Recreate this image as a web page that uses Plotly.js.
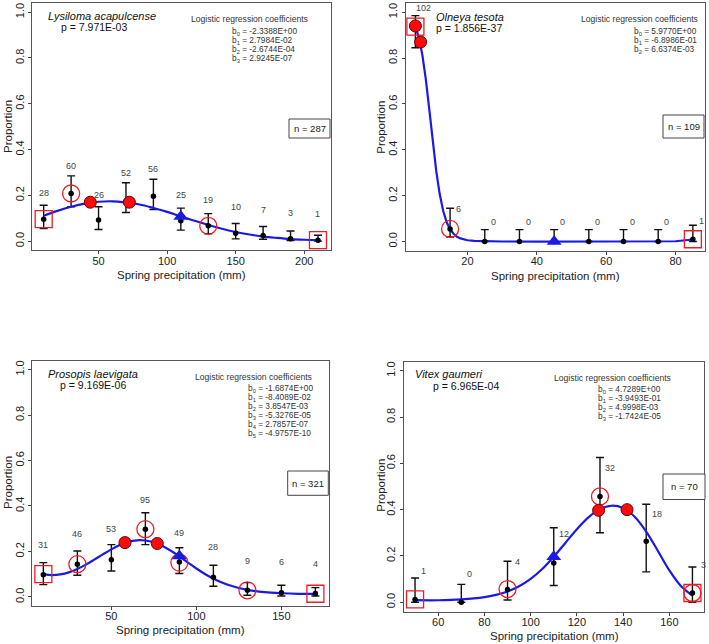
<!DOCTYPE html>
<html><head><meta charset="utf-8">
<script src="https://cdn.plot.ly/plotly-3.0.1.min.js"></script>
<style>html,body{margin:0;padding:0;background:#fff}#chart{width:709px;height:644px}</style>
</head><body><div id="chart"></div><script>
// ---------- Panel 1: Lysiloma acapulcense ----------
const p1Species = 'Lysiloma acapulcense';
const p1P = 'p = 7.971E-03';
const p1N = 'n = 287';
const p1Coef = ['-2.3388E+00','2.7984E-02','-2.6744E-04','2.9245E-07'];
const p1X = [10,30,50,70,90,110,130,150,170,190,210];
const p1Y = [0.096,0.208,0.092,0.173,0.196,0.089,0.067,0.034,0.025,0.010,0.004];
const p1Up = [0.157,0.285,0.150,0.255,0.270,0.144,0.120,0.077,0.064,0.044,0.026];
const p1Lo = [0.055,0.150,0.051,0.125,0.138,0.048,0.032,0.010,0.008,0.003,0.000];
const p1Count = [28,60,26,52,56,25,19,10,7,3,1];
const p1LabX = [10,30,50,70,90,110,130,150,170,190,210];
const p1LabY = [0.21,0.329,0.20,0.296,0.313,0.20,0.179,0.15,0.135,0.125,0.117];
const p1CurveX = [10,20,30,40,50,60,70,80,90,100,110,120,130,140,150,160,170,180,190,200,210];
const p1CurveY = [0.111,0.132,0.150,0.164,0.172,0.174,0.169,0.160,0.145,0.128,0.108,0.089,0.071,0.054,0.040,0.029,0.020,0.014,0.009,0.006,0.004];
const p1MaxX = [44,72.5], p1MaxY = [0.170,0.170];
const p1CircX = [30,130], p1CircY = [0.208,0.067];
const p1SqX = [10,210], p1SqY = [0.096,0.004];
const p1TriX = [110], p1TriY = [0.108];

// ---------- Panel 2: Olneya tesota ----------
const p2Species = 'Olneya tesota';
const p2P = 'p = 1.856E-37';
const p2N = 'n = 109';
const p2Coef = ['5.9770E+00','-6.8986E-01','6.6374E-03'];
const p2X = [5,15,25,35,45,55,65,75,85];
const p2Y = [0.94,0.055,0,0,0,0,0,0,0.01];
const p2Up = [0.985,0.145,0.052,0.052,0.052,0.052,0.052,0.052,0.071];
const p2Lo = [0.845,0.02,0,0,0,0,0,0,0];
const p2Count = [102,6,0,0,0,0,0,0,1];
const p2LabX = [7.2,17.4,27.5,37.5,47.5,57.5,67.5,77.5,87.6];
const p2LabY = [1.018,0.14,0.086,0.086,0.086,0.086,0.086,0.086,0.09];
const p2CurveX = [5,6,7,8,9,10,11,12,13,14,15,16,17,18,20,22,25,30,40,50,60,70,75,80,85];
const p2CurveY = [0.937,0.889,0.814,0.707,0.576,0.436,0.308,0.207,0.134,0.085,0.053,0.034,0.021,0.0135,0.0057,0.0025,0.0008,0.0002,0,0,0,0.0001,0.0002,0.0012,0.0089];
const p2MaxX = [5,6.5], p2MaxY = [0.94,0.87];
const p2CircX = [15], p2CircY = [0.055];
const p2SqX = [5,85], p2SqY = [0.937,0.01];
const p2TriX = [45], p2TriY = [0];

// ---------- Panel 3: Prosopis laevigata ----------
const p3Species = 'Prosopis laevigata';
const p3P = 'p = 9.169E-06';
const p3N = 'n = 321';
const p3Coef = ['-1.6874E+00','-8.4089E-02','3.8547E-03','-5.3276E-05','2.7857E-07','-4.9757E-10'];
const p3X = [10,30,50,70,90,110,130,150,170];
const p3Y = [0.098,0.144,0.164,0.298,0.154,0.087,0.029,0.018,0.015];
const p3Up = [0.151,0.202,0.230,0.370,0.216,0.139,0.063,0.051,0.041];
const p3Lo = [0.054,0.095,0.114,0.230,0.103,0.047,0.007,0.004,0.004];
const p3Count = [31,46,53,95,49,28,9,6,4];
const p3LabX = [10,30,50,70,90,110,130,150,170];
const p3LabY = [0.227,0.276,0.298,0.428,0.283,0.218,0.160,0.155,0.144];
const p3CurveX = [10,15,20,25,30,35,40,45,50,55,60,65,70,75,80,85,90,95,100,105,110,115,120,125,130,140,150,160,170];
const p3CurveY = [0.100,0.096,0.099,0.108,0.123,0.142,0.164,0.187,0.209,0.228,0.242,0.249,0.248,0.240,0.224,0.203,0.178,0.151,0.125,0.101,0.081,0.063,0.050,0.039,0.031,0.021,0.016,0.0135,0.0133];
const p3MaxX = [58,77], p3MaxY = [0.239,0.235];
const p3CircX = [30,70,90,130], p3CircY = [0.144,0.298,0.151,0.029];
const p3SqX = [10,170], p3SqY = [0.100,0.014];
const p3TriX = [90], p3TriY = [0.180];

// ---------- Panel 4: Vitex gaumeri ----------
const p4Species = 'Vitex gaumeri';
const p4P = 'p = 6.965E-04';
const p4N = 'n = 70';
const p4Coef = ['4.7289E+00','-3.9493E-01','4.9998E-03','-1.7424E-05'];
const p4X = [50,70,90,110,130,150,170];
const p4Y = [0.012,0,0.055,0.169,0.457,0.264,0.04];
const p4Up = [0.105,0.077,0.177,0.322,0.625,0.423,0.152];
const p4Lo = [0,0,0.010,0.072,0.300,0.131,0];
const p4Count = [1,0,4,12,32,18,3];
const p4LabX = [53.8,73.7,94.2,114.5,134.2,154.6,174.6];
const p4LabY = [0.137,0.123,0.176,0.296,0.581,0.381,0.163];
const p4CurveX = [50,60,70,80,85,90,95,100,105,110,115,120,125,130,135,140,145,150,155,160,165,170];
const p4CurveY = [0.009,0.0087,0.0122,0.0221,0.0318,0.0466,0.0688,0.1006,0.1434,0.1967,0.2562,0.3155,0.3668,0.4023,0.4169,0.4069,0.3696,0.3055,0.2227,0.1378,0.0700,0.0288];
const p4MaxX = [129.4,141.7], p4MaxY = [0.397,0.40];
const p4CircX = [90,130,170], p4CircY = [0.057,0.457,0.04];
const p4SqX = [50,170], p4SqY = [0.012,0.04];
const p4TriX = [110], p4TriY = [0.197];

const yTicks = [0,0.2,0.4,0.6,0.8,1.0];
const yTickText = ['0.0','0.2','0.4','0.6','0.8','1.0'];
const xTitle = 'Spring precipitation (mm)';
const yTitle = 'Proportion';
const coefHeader = 'Logistic regression coefficients';

// ---------- layout helpers ----------
const W = 709, H = 644;
const FONT = 'Liberation Sans, Arial, Helvetica, sans-serif';
const RED = '#ec1c24', BLUE = '#1a1ae6';
const px = v => v / W, py = v => 1 - v / H;

const panels = [
  {species:p1Species,pText:p1P,nText:p1N,coef:p1Coef,x:p1X,y:p1Y,up:p1Up,lo:p1Lo,cnt:p1Count,lx:p1LabX,ly:p1LabY,cx:p1CurveX,cy:p1CurveY,mx:p1MaxX,my:p1MaxY,ox:p1CircX,oy:p1CircY,sx:p1SqX,sy:p1SqY,tx:p1TriX,ty:p1TriY,
   dom:[32.3,331,3,250.3], xr:[1.7,219.5], xt:[50,100,150,200], spline:true,
   sp:{x:102,y:16,anchor:'center'}, pp:{x:94,y:27,anchor:'center'},
   ch:{x:249.5,y:19.3}, cl:{x:231,y:31,dy:9},
   nb:[289,330,119,138], yt:{x:8,y:127}, xtl:{x:181.6,y:275}},
  {species:p2Species,pText:p2P,nText:p2N,coef:p2Coef,x:p2X,y:p2Y,up:p2Up,lo:p2Lo,cnt:p2Count,lx:p2LabX,ly:p2LabY,cx:p2CurveX,cy:p2CurveY,mx:p2MaxX,my:p2MaxY,ox:p2CircX,oy:p2CircY,sx:p2SqX,sy:p2SqY,tx:p2TriX,ty:p2TriY,
   dom:[405.7,705,3,250.7], xr:[2.2,88.5], xt:[20,40,60,80], spline:false,
   sp:{x:435,y:16.7,anchor:'left'}, pp:{x:435,y:27.7,anchor:'left'},
   ch:{x:639.5,y:19.3}, cl:{x:633,y:31.5,dy:9.1},
   nb:[663,704,115,138], yt:{x:380.7,y:127}, xtl:{x:555,y:276}},
  {species:p3Species,pText:p3P,nText:p3N,coef:p3Coef,x:p3X,y:p3Y,up:p3Up,lo:p3Lo,cnt:p3Count,lx:p3LabX,ly:p3LabY,cx:p3CurveX,cy:p3CurveY,mx:p3MaxX,my:p3MaxY,ox:p3CircX,oy:p3CircY,sx:p3SqX,sy:p3SqY,tx:p3TriX,ty:p3TriY,
   dom:[32.3,329,360.5,606], xr:[3.5,178], xt:[50,100,150], spline:true,
   sp:{x:92.5,y:373.7,anchor:'center'}, pp:{x:93,y:385.3,anchor:'center'},
   ch:{x:253,y:377}, cl:{x:246.7,y:388.5,dy:9},
   nb:[287.7,328.3,471,495.3], yt:{x:8,y:483}, xtl:{x:180.6,y:630}},
  {species:p4Species,pText:p4P,nText:p4N,coef:p4Coef,x:p4X,y:p4Y,up:p4Up,lo:p4Lo,cnt:p4Count,lx:p4LabX,ly:p4LabY,cx:p4CurveX,cy:p4CurveY,mx:p4MaxX,my:p4MaxY,ox:p4CircX,oy:p4CircY,sx:p4SqX,sy:p4SqY,tx:p4TriX,ty:p4TriY,
   dom:[403.5,704,361.5,611.5], xr:[45,175], xt:[60,80,100,120,140,160], spline:true,
   sp:{x:448.5,y:374.3,anchor:'center'}, pp:{x:465.5,y:386,anchor:'center'},
   ch:{x:612,y:378}, cl:{x:596.7,y:389,dy:9.2},
   nb:[663,705,474,499.5], yt:{x:380.7,y:485}, xtl:{x:554,y:636}}
];

const traces = [];
const annotations = [];
const shapes = [];
const layout = {
  width: W, height: H, margin: {l:0,r:0,t:0,b:0},
  paper_bgcolor: '#fff', plot_bgcolor: '#fff', showlegend: false,
  font: {family: FONT, color: '#222'}
};

function txt(text, x, y, size, opts) {
  opts = opts || {};
  annotations.push({
    text: text, xref: 'paper', yref: 'paper', x: px(x), y: py(y),
    xanchor: opts.anchor || 'center', yanchor: 'middle', showarrow: false,
    textangle: opts.angle || 0, borderpad: 0,
    font: {family: FONT, size: size, color: opts.color || '#222'}
  });
}

panels.forEach((P, i) => {
  const xa = i === 0 ? 'x' : 'x' + (i + 1);
  const ya = i === 0 ? 'y' : 'y' + (i + 1);
  const xk = i === 0 ? 'xaxis' : 'xaxis' + (i + 1);
  const yk = i === 0 ? 'yaxis' : 'yaxis' + (i + 1);
  const common = {
    ticks: 'outside', ticklen: 3, tickwidth: 1, tickcolor: '#444',
    showline: true, mirror: true, linecolor: '#555', linewidth: 1,
    showgrid: false, zeroline: false, fixedrange: true,
    tickfont: {family: FONT, size: 11, color: '#222'}
  };
  layout[xk] = Object.assign({}, common, {
    domain: [px(P.dom[0]), px(P.dom[1])], range: P.xr, tickvals: P.xt,
    anchor: ya, ticklabelstandoff: -3
  });
  layout[yk] = Object.assign({}, common, {
    domain: [py(P.dom[3]), py(P.dom[2])], range: [-0.04, 1.04],
    tickvals: yTicks, ticktext: yTickText, tickangle: -90, anchor: xa
  });

  // error bars (markers invisible)
  traces.push({
    type: 'scatter', mode: 'markers', x: P.x, y: P.y, xaxis: xa, yaxis: ya,
    marker: {size: 1, color: 'rgba(0,0,0,0)'}, hoverinfo: 'skip', cliponaxis: false,
    error_y: {type: 'data', symmetric: false,
      array: P.up.map((u, k) => u - P.y[k]),
      arrayminus: P.lo.map((l, k) => P.y[k] - l),
      color: '#111', thickness: 1.4, width: 4}
  });
  // fitted curve
  traces.push({
    type: 'scatter', mode: 'lines', x: P.cx, y: P.cy, xaxis: xa, yaxis: ya,
    line: {color: BLUE, width: 2.2, shape: P.spline ? 'spline' : 'linear', smoothing: 1},
    hoverinfo: 'skip'
  });
  // observed proportions
  traces.push({
    type: 'scatter', mode: 'markers', x: P.x, y: P.y, xaxis: xa, yaxis: ya,
    marker: {size: 5.5, color: '#000'}, cliponaxis: false
  });
  // open circles
  traces.push({
    type: 'scatter', mode: 'markers', x: P.ox, y: P.oy, xaxis: xa, yaxis: ya,
    marker: {symbol: 'circle-open', size: 17, color: RED, line: {width: 1.3}}, cliponaxis: false
  });
  // open squares
  traces.push({
    type: 'scatter', mode: 'markers', x: P.sx, y: P.sy, xaxis: xa, yaxis: ya,
    marker: {symbol: 'square-open', size: 17, color: RED, line: {width: 1.3}}, cliponaxis: false
  });
  // filled red circles
  traces.push({
    type: 'scatter', mode: 'markers', x: P.mx, y: P.my, xaxis: xa, yaxis: ya,
    marker: {symbol: 'circle', size: 12, color: '#ff0a0a', line: {color: '#6a0000', width: 1}}, cliponaxis: false
  });
  // blue triangle
  traces.push({
    type: 'scatter', mode: 'markers', x: P.tx, y: P.ty, xaxis: xa, yaxis: ya,
    marker: {symbol: 'triangle-up', size: 13, color: BLUE}, cliponaxis: false
  });

  // sample-size labels
  P.cnt.forEach((c, k) => {
    annotations.push({
      text: String(c), xref: xa, yref: ya, x: P.lx[k], y: P.ly[k],
      xanchor: 'center', yanchor: 'middle', showarrow: false, borderpad: 0,
      font: {family: FONT, size: 9, color: '#444'}
    });
  });

  // texts
  txt('<i>' + P.species + '</i>', P.sp.x, P.sp.y, 11, {anchor: P.sp.anchor, color: '#111'});
  txt(P.pText, P.pp.x, P.pp.y, 10.5, {anchor: P.pp.anchor, color: '#111'});
  txt(coefHeader, P.ch.x, P.ch.y, 8.6, {color: '#333'});
  P.coef.forEach((c, k) => {
    txt('b<sub>' + k + '</sub> = ' + c, P.cl.x, P.cl.y + k * P.cl.dy, 8.3, {anchor: 'left', color: '#333'});
  });
  // n box
  shapes.push({type: 'rect', xref: 'paper', yref: 'paper',
    x0: px(P.nb[0]), x1: px(P.nb[1]), y0: py(P.nb[3]), y1: py(P.nb[2]),
    line: {color: '#444', width: 1}, fillcolor: '#fff', layer: 'above'});
  txt(P.nText, (P.nb[0] + P.nb[1]) / 2, (P.nb[2] + P.nb[3]) / 2, 9.5, {color: '#222'});
  // axis titles
  txt(yTitle, P.yt.x, P.yt.y, 11.5, {angle: -90, color: '#222'});
  txt(xTitle, P.xtl.x, P.xtl.y, 11.5, {color: '#222'});
});

layout.annotations = annotations;
layout.shapes = shapes;
Plotly.newPlot('chart', traces, layout, {staticPlot: true, displayModeBar: false});
</script></body></html>
